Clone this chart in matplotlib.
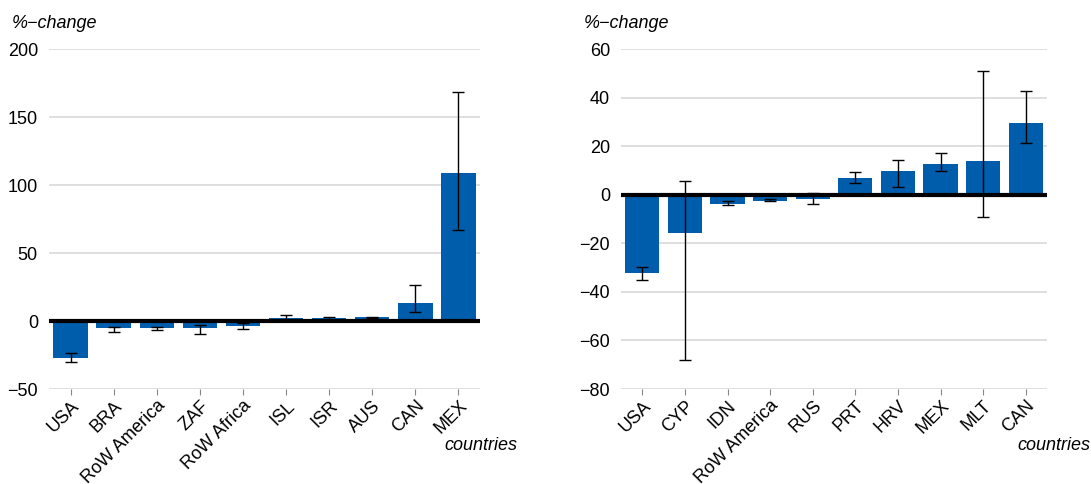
import numpy as np
import matplotlib.pyplot as plt

plt.rcParams['font.family'] = ['Liberation Sans', 'DejaVu Sans']

# panel 1
paises_1 = ['USA', 'BRA', 'RoW America', 'ZAF', 'RoW Africa', 'ISL', 'ISR', 'AUS', 'CAN', 'MEX']
valor_1 = [-27.0, -5.4, -5.4, -5.4, -3.4, 2.0, 2.0, 2.7, 13.0, 108.8]
bajo_1 = [-29.9, -8.1, -6.9, -9.6, -5.6, 0.3, 1.0, 2.2, 6.9, 66.9]
alto_1 = [-23.8, -4.2, -4.2, -3.2, -1.7, 4.2, 3.2, 3.2, 26.7, 168.1]

# panel 2
paises_2 = ['USA', 'CYP', 'IDN', 'RoW America', 'RUS', 'PRT', 'HRV', 'MEX', 'MLT', 'CAN']
valor_2 = [-32.1, -15.6, -3.7, -2.5, -1.6, 6.7, 9.8, 12.6, 13.9, 29.5]
bajo_2 = [-35.1, -68.2, -4.4, -2.7, -3.8, 4.8, 3.0, 9.6, -9.3, 21.2]
alto_2 = [-29.6, 5.8, -2.7, -1.8, 0.8, 9.5, 14.3, 17.2, 50.8, 42.6]

azul = '#005DAC'
gris = '#d9d9d9'

fig = plt.figure(figsize=(10.91, 4.84), dpi=100)
ax1 = fig.add_axes([49/1091, 1 - 389/484, 431/1091, 340/484])
ax2 = fig.add_axes([621/1091, 1 - 389/484, 426/1091, 340/484])


def panel(ax, paises, valor, bajo, alto, ylim, yticks):
    x = np.arange(len(paises))
    v = np.array(valor)
    err = np.array([v - np.array(bajo), np.array(alto) - v])
    ax.bar(x, v, width=0.8, color=azul, zorder=2)
    ax.errorbar(x, v, yerr=err, fmt='none', ecolor='black', elinewidth=1,
                capsize=4.5, capthick=1, zorder=4)
    ax.axhline(0, color='black', lw=3, zorder=3)
    ax.set_xlim(-0.5, len(paises) - 0.5)
    ax.set_ylim(*ylim)
    ax.set_yticks(yticks)
    ax.grid(axis='y', color=gris, lw=1.2, zorder=0)
    for s in ax.spines.values():
        s.set_visible(False)
    ax.set_xticks(x)
    ax.set_xticklabels(paises, rotation=45, ha='right', rotation_mode='anchor')
    ax.tick_params(axis='x', length=4, color='#888888', labelsize=13, pad=2)
    ax.tick_params(axis='y', length=0, labelsize=13, pad=8)


panel(ax1, paises_1, valor_1, bajo_1, alto_1, (-50, 200), [-50, 0, 50, 100, 150, 200])
panel(ax2, paises_2, valor_2, bajo_2, alto_2, (-80, 60), [-80, -60, -40, -20, 0, 20, 40, 60])

fig.text(12/1091, 1 - 24/484, '%\u2212change', style='italic', fontsize=13, va='center')
fig.text(584/1091, 1 - 24/484, '%\u2212change', style='italic', fontsize=13, va='center')
fig.text(517/1091, 1 - 446/484, 'countries', style='italic', fontsize=13, va='center', ha='right')
fig.text(1090/1091, 1 - 446/484, 'countries', style='italic', fontsize=13, va='center', ha='right')

fig.savefig('out.png', dpi=100)
